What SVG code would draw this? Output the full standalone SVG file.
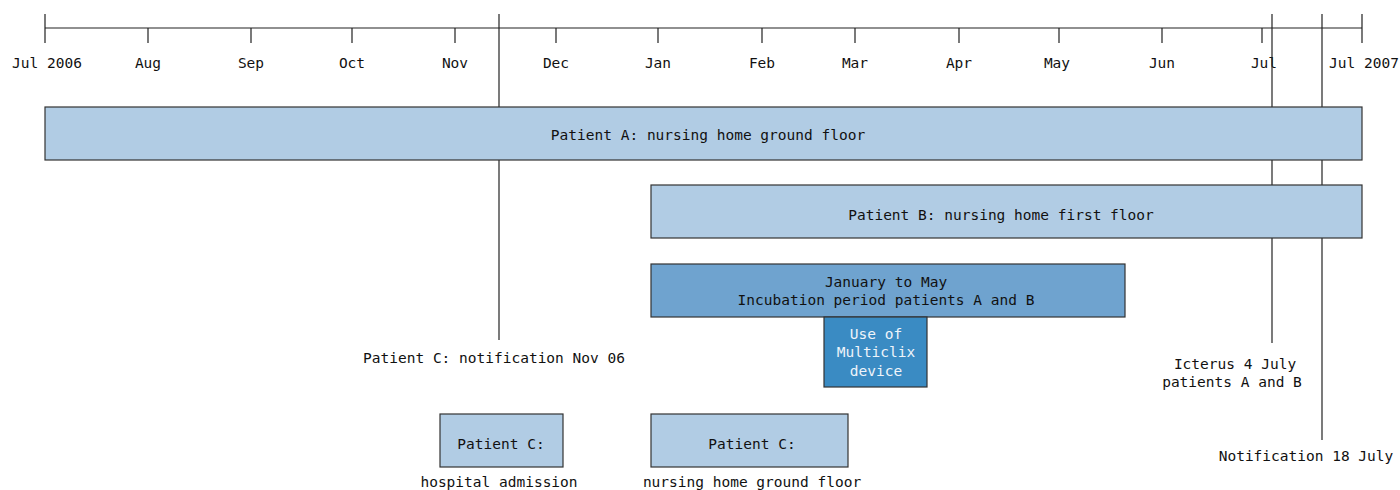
<svg xmlns="http://www.w3.org/2000/svg" width="1400" height="490" viewBox="0 0 1400 490">
<style>
text{font-family:"DejaVu Sans Mono","Liberation Mono",monospace;font-size:14.5px;fill:#111;text-anchor:middle}
.ax{stroke:#222;stroke-width:1.2;fill:none}
.bar{fill:#b1cce4;stroke:#333;stroke-width:1.2}
.inc{fill:#6fa3cf;stroke:#333;stroke-width:1.2}
.dev{fill:#3a8bc3;stroke:#333;stroke-width:1.2}
.w{fill:#eef4fa}
</style>
<rect width="1400" height="490" fill="#fff"/>
<g id="axis">
<line class="ax" x1="45" y1="28" x2="1362" y2="28"/>
<path class="ax" d="M45 14V43M148 28V43M251 28V43M352 28V43M455 28V43M556 28V43M658 28V43M762 28V43M855 28V43M959 28V43M1059 28V43M1162 28V43M1262 28V43M1362 14V43"/>
<text x="47" y="68">Jul 2006</text>
<text x="148" y="68">Aug</text>
<text x="251" y="68">Sep</text>
<text x="352" y="68">Oct</text>
<text x="455" y="68">Nov</text>
<text x="556" y="68">Dec</text>
<text x="658" y="68">Jan</text>
<text x="762" y="68">Feb</text>
<text x="855" y="68">Mar</text>
<text x="959" y="68">Apr</text>
<text x="1057" y="68">May</text>
<text x="1162" y="68">Jun</text>
<text x="1264" y="68">Jul</text>
<text x="1364" y="68">Jul 2007</text>
</g>
<g id="connectors">
<line class="ax" x1="499" y1="14" x2="499" y2="340"/>
<line class="ax" x1="1272" y1="14" x2="1272" y2="343"/>
<line class="ax" x1="1322" y1="14" x2="1322" y2="440"/>
</g>
<g id="patientA">
<rect class="bar" x="45" y="107" width="1317" height="53"/>
<text x="708" y="140">Patient A: nursing home ground floor</text>
</g>
<g id="patientB">
<rect class="bar" x="651" y="185" width="711" height="53"/>
<text x="1001" y="220">Patient B: nursing home first floor</text>
</g>
<g id="incubation">
<rect class="inc" x="651" y="264" width="474" height="53"/>
<text x="886" y="287">January to May</text>
<text x="886" y="305">Incubation period patients A and B</text>
</g>
<g id="multiclix">
<rect class="dev" x="824" y="317" width="103" height="70"/>
<text class="w" x="876" y="339">Use of</text>
<text class="w" x="876" y="357">Multiclix</text>
<text class="w" x="876" y="376">device</text>
</g>
<g id="notifC">
<text x="494" y="363">Patient C: notification Nov 06</text>
</g>
<g id="icterus">
<text x="1235" y="369">Icterus 4 July</text>
<text x="1232" y="387">patients A and B</text>
</g>
<g id="notif18">
<text x="1306" y="461">Notification 18 July</text>
</g>
<g id="patientC_hospital">
<rect class="bar" x="440" y="414" width="123" height="53"/>
<text x="501" y="449">Patient C:</text>
<text x="499" y="487">hospital admission</text>
</g>
<g id="patientC_nursing">
<rect class="bar" x="651" y="414" width="197" height="53"/>
<text x="752" y="449">Patient C:</text>
<text x="752" y="487">nursing home ground floor</text>
</g>
</svg>
